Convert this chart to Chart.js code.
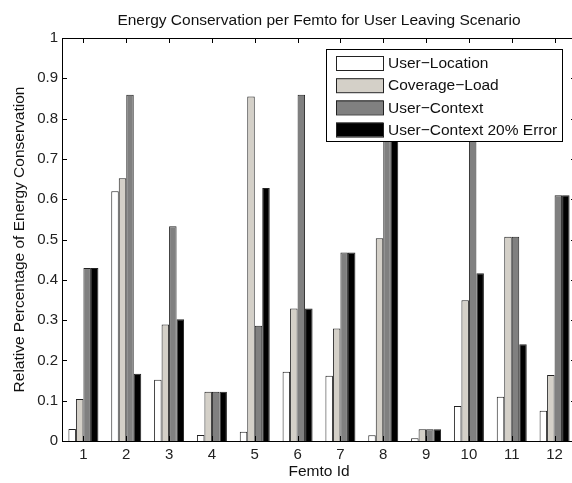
<!DOCTYPE html>
<html lang="en">
<head>
<meta charset="UTF-8">
<title>Energy Conservation per Femto</title>
<script src="https://cdn.jsdelivr.net/npm/chart.js"></script>
<style>
	* { margin: 0; padding: 0; box-sizing: border-box; }
	html, body { background: #fff; overflow: hidden; }
	#grafico-container { width: 576px; height: 483px; }
</style>
</head>
<body>
<div id="grafico-container">
	<canvas id="grafico" width="576" height="483"></canvas>
</div>
<script>
// valores
const femtoIds = ['1', '2', '3', '4', '5', '6', '7', '8', '9', '10', '11', '12'];
const userLocation = [0.030, 0.620, 0.152, 0.015, 0.023, 0.172, 0.162, 0.014, 0.007, 0.087, 0.110, 0.075];
const coverageLoad = [0.104, 0.652, 0.289, 0.122, 0.855, 0.329, 0.279, 0.503, 0.029, 0.349, 0.507, 0.164];
const userContext = [0.429, 0.859, 0.533, 0.122, 0.286, 0.859, 0.468, 0.780, 0.029, 0.780, 0.507, 0.610];
const userContextErr = [0.429, 0.167, 0.302, 0.122, 0.628, 0.329, 0.468, 0.780, 0.029, 0.416, 0.240, 0.610];
const yTicks = { min: 0, max: 1, step: 0.1 };

const fuente = "'Liberation Sans', Arial, sans-serif";
Chart.defaults.font.family = fuente;
Chart.defaults.font.size = 15;
Chart.defaults.color = '#222';

// marco, ticks hacia dentro y leyenda opaca encima de las barras
const marcoPlugin = {
	id: 'marco',
	afterDatasetsDraw(chart) {
		const { ctx, chartArea: a, scales: { x, y } } = chart;
		ctx.save();
		ctx.strokeStyle = '#000';
		ctx.lineWidth = 1;
		ctx.beginPath();
		y.ticks.forEach(t => {
			const py = Math.round(y.getPixelForValue(t.value)) + 0.5;
			ctx.moveTo(a.left, py); ctx.lineTo(a.left + 5, py);
			ctx.moveTo(a.right, py); ctx.lineTo(a.right - 5, py);
		});
		x.ticks.forEach((t, i) => {
			const px = Math.round(x.getPixelForTick(i)) + 0.5;
			ctx.moveTo(px, a.top); ctx.lineTo(px, a.top + 5);
			ctx.moveTo(px, a.bottom); ctx.lineTo(px, a.bottom - 5);
		});
		ctx.stroke();
		ctx.strokeRect(a.left + 0.5, a.top + 0.5, a.right - a.left, a.bottom - a.top);

		// leyenda
		const bx = a.right - 250, by = a.top + 11, bw = 236, bh = 92;
		ctx.fillStyle = '#fff';
		ctx.fillRect(bx, by, bw, bh);
		ctx.strokeRect(bx + 0.5, by + 0.5, bw, bh);
		ctx.font = '15.5px ' + fuente;
		ctx.textBaseline = 'middle';
		chart.data.datasets.forEach((ds, i) => {
			const cy = by + 14 + i * 22.2;
			ctx.fillStyle = ds.backgroundColor;
			ctx.fillRect(bx + 10, cy - 7, 47, 14);
			ctx.strokeStyle = '#222';
			ctx.strokeRect(bx + 10.5, cy - 6.5, 47, 14);
			ctx.fillStyle = '#111';
			ctx.fillText(ds.label, bx + 62, cy + 1);
		});
		ctx.restore();
	}
};

const datasets = [
	{ label: 'User\u2212Location', data: userLocation, backgroundColor: '#ffffff' },
	{ label: 'Coverage\u2212Load', data: coverageLoad, backgroundColor: '#d4d0c8' },
	{ label: 'User\u2212Context', data: userContext, backgroundColor: '#808080' },
	{ label: 'User\u2212Context 20% Error', data: userContextErr, backgroundColor: '#000000' }
].map(d => Object.assign(d, {
	borderColor: '#222',
	borderWidth: 1,
	categoryPercentage: 0.7,
	barPercentage: 1.0
}));

new Chart(document.querySelector('#grafico'), {
	type: 'bar',
	data: { labels: femtoIds, datasets: datasets },
	options: {
		responsive: false,
		animation: false,
		layout: { padding: 0 },
		plugins: {
			legend: { display: false },
			tooltip: { enabled: false },
			title: {
				display: true,
				fullSize: false,
				text: 'Energy Conservation per Femto for User Leaving Scenario',
				color: '#111',
				font: { size: 15.5, weight: 'normal' },
				padding: { top: 11.5, bottom: 7.9 }
			}
		},
		scales: {
			x: {
				grid: { display: false, drawTicks: false },
				border: { display: false },
				ticks: { padding: 4.5, color: '#222', font: { size: 15 }, maxRotation: 0 },
				title: { display: true, text: 'Femto Id', color: '#111', font: { size: 15.5 }, padding: { top: 0, bottom: 2.2 } },
				afterFit(scale) { scale.height = 42; }
			},
			y: {
				min: yTicks.min,
				max: yTicks.max,
				grid: { display: false, drawTicks: false },
				border: { display: false },
				ticks: {
					stepSize: yTicks.step,
					padding: 4,
					color: '#222',
					font: { size: 15 },
					callback: v => String(Math.round(v * 10) / 10)
				},
				title: { display: true, text: 'Relative Percentage of Energy Conservation', color: '#111', font: { size: 15.5 }, padding: { top: 10.7, bottom: 0 } },
				afterFit(scale) { scale.width = 62; }
			}
		}
	},
	plugins: [marcoPlugin]
});
</script>
</body>
</html>
